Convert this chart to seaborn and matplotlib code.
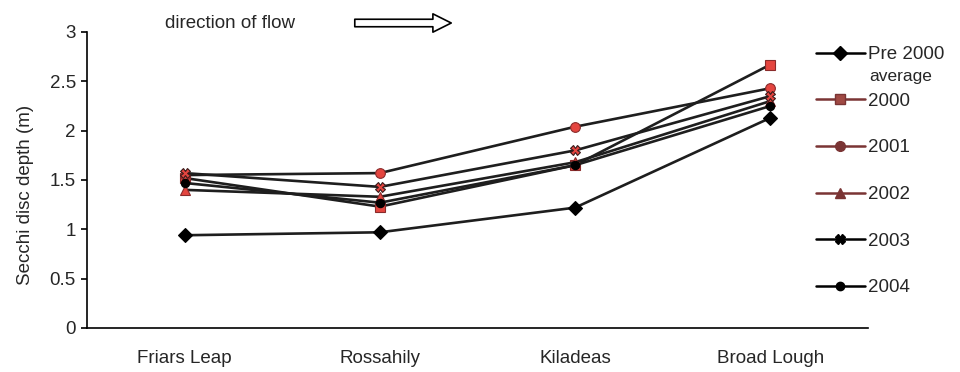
import matplotlib
matplotlib.use("Agg")
import matplotlib.pyplot as plt
import seaborn as sns
import pandas as pd
from matplotlib.lines import Line2D

sites = ["Friars Leap", "Rossahily", "Kiladeas", "Broad Lough"]
series_names = ["Pre 2000", "2000", "2001", "2002", "2003", "2004"]
pre2000 = [0.94, 0.97, 1.22, 2.13]
y2000 = [1.52, 1.23, 1.65, 2.67]
y2001 = [1.55, 1.57, 2.04, 2.43]
y2002 = [1.40, 1.33, 1.68, 2.30]
y2003 = [1.57, 1.43, 1.80, 2.35]
y2004 = [1.47, 1.27, 1.65, 2.25]
values = [pre2000, y2000, y2001, y2002, y2003, y2004]

sns.set_theme(style="white")
plt.rcParams["font.family"] = ["Liberation Sans", "DejaVu Sans"]

rows = []
for name, vals in zip(series_names, values):
    for i, (s, v) in enumerate(zip(sites, vals)):
        rows.append({"series": name, "pos": i, "site": s, "depth": v})
df = pd.DataFrame(rows)

fig = plt.figure(figsize=(9.6, 3.72), dpi=100)
ax = fig.add_axes([87 / 960, 44 / 372, (868 - 87) / 960, (328 - 32) / 372])

red = "#e4453f"
redge = "#8a2b2b"
brown = "#7a3434"
styles = {
    "Pre 2000": dict(marker="D", mfc="black", mec="black", ms=7),
    "2000": dict(marker="s", mfc=red, mec=redge, ms=7),
    "2001": dict(marker="o", mfc=red, mec=redge, ms=7),
    "2002": dict(marker="^", mfc=red, mec=redge, ms=7),
    "2003": dict(marker="X", mfc=red, mec="#3a1a1a", ms=7),
    "2004": dict(marker="o", mfc="black", mec="black", ms=6),
}
for name in series_names:
    st = styles[name]
    sub = df[df["series"] == name]
    sns.lineplot(data=sub, x="pos", y="depth", ax=ax, color="#1e1e1e", lw=1.9,
                 marker=st["marker"], markerfacecolor=st["mfc"],
                 markeredgecolor=st["mec"], markersize=st["ms"],
                 markeredgewidth=0.8, legend=False, zorder=3)

fs = 13.5
ax.set_xlim(-0.5, len(sites) - 0.5)
ax.set_ylim(0, 3)
ax.set_xticks(range(len(sites)))
ax.set_xticklabels(sites, fontsize=fs)
ax.set_xticks([i - 0.5 for i in range(len(sites) + 1)], minor=True)
ax.tick_params(axis="x", which="major", length=0, pad=16)
ax.tick_params(axis="x", which="minor", length=4, width=1.2, color="black", direction="out")
ax.set_yticks([0, 0.5, 1, 1.5, 2, 2.5, 3])
ax.set_yticklabels(["0", "0.5", "1", "1.5", "2", "2.5", "3"], fontsize=fs)
ax.tick_params(axis="y", length=4, width=1.2, color="black", direction="out", left=True, pad=4)
ax.set_xlabel("")
ax.set_ylabel("Secchi disc depth (m)", fontsize=fs)
ax.yaxis.set_label_coords(-0.068, 0.45)
for sp in ["top", "right"]:
    ax.spines[sp].set_visible(False)
for sp in ["left", "bottom"]:
    ax.spines[sp].set_color("black")
    ax.spines[sp].set_linewidth(1.2)

fig.text(165 / 960, 1 - 24 / 372, "direction of flow", fontsize=fs, va="center", ha="left")
ax.annotate("", xy=(454, 372 - 23), xytext=(352, 372 - 23), xycoords="figure pixels",
            textcoords="figure pixels",
            arrowprops=dict(arrowstyle="simple,head_length=1.1,head_width=1.1,tail_width=0.45",
                            fc="white", ec="black", lw=1.2))

handles = [
    Line2D([], [], color="black", lw=1.8, marker="D", mfc="black", mec="black", ms=7),
    Line2D([], [], color=brown, lw=1.8, marker="s", mfc="#a04a44", mec=brown, ms=7),
    Line2D([], [], color=brown, lw=1.8, marker="o", mfc=brown, mec=brown, ms=7),
    Line2D([], [], color=brown, lw=1.8, marker="^", mfc=brown, mec=brown, ms=7),
    Line2D([], [], color="black", lw=1.8, marker="X", mfc="black", mec="black", ms=7),
    Line2D([], [], color="black", lw=1.8, marker="o", mfc="black", mec="black", ms=6),
]
leg = fig.legend(handles, series_names, loc="upper left",
                 bbox_to_anchor=(816 / 960, 1 - 46 / 372), frameon=False,
                 fontsize=fs, handlelength=2.6, handletextpad=0.15,
                 labelspacing=1.575, borderaxespad=0, borderpad=0)
fig.text(869 / 960, 1 - 77 / 372, "average", fontsize=12.5, va="center", ha="left")

fig.savefig("out.png", dpi=100)
